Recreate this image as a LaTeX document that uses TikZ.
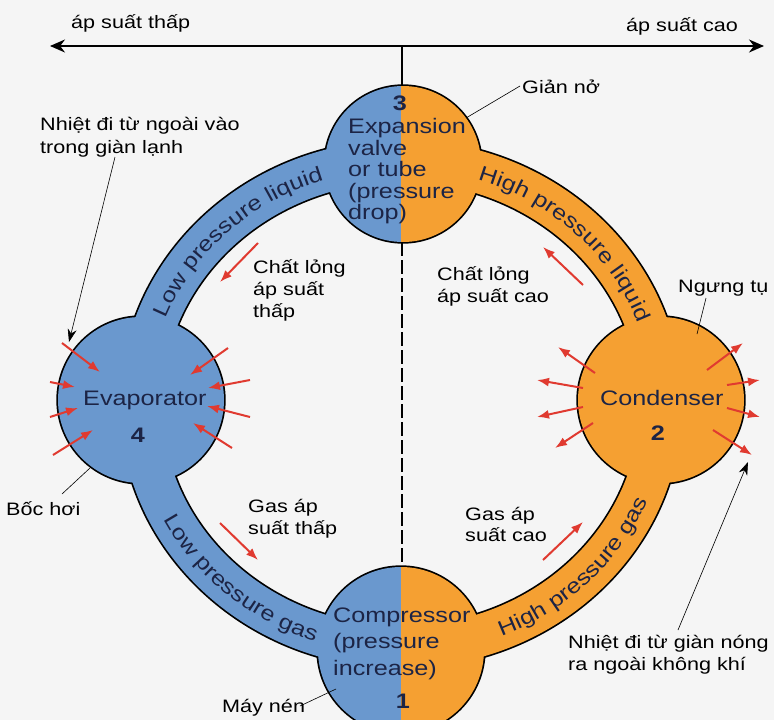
\documentclass[tikz,border=0pt]{standalone}
\usepackage{fontspec}
\setmainfont{Liberation Sans}
\newfontfamily\vf[FakeStretch=1.2]{Liberation Sans}
\usetikzlibrary{arrows.meta,decorations.text}
\definecolor{cblue}{HTML}{6A98CE}
\definecolor{corange}{HTML}{F5A032}
\definecolor{cnavy}{HTML}{1C2445}
\definecolor{cred}{HTML}{E03A30}
\definecolor{cbg}{HTML}{F5F5F5}
\newcommand\bandfont{\vf\fontsize{21}{21}\selectfont\color{cnavy}}
\begin{document}
\begin{tikzpicture}[x=1pt,y=-1pt,
  lbl/.style={font=\vf\fontsize{18}{20}\selectfont, anchor=base west, inner sep=0pt, text=black},
  ntxt/.style={font=\vf\fontsize{21}{22}\selectfont, anchor=base west, inner sep=0pt, text=cnavy},
  num/.style={font=\vf\bfseries\fontsize{21}{22}\selectfont, anchor=base, inner sep=0pt, text=cnavy},
  heat/.style={draw=cred, line width=2pt, -{Latex[length=12pt,width=9pt]}},
  leader/.style={draw=black, line width=0.6pt},
  outline/.style={line width=3.4pt, draw=black},
  bandtext/.style={decorate, decoration={text along path, text align=center, text={|\bandfont|#1}}}
]
\fill[cbg] (0,0) rectangle (774,720);
\useasboundingbox (0,0) rectangle (774,720);

% centres
\coordinate (C) at (401,404);
\coordinate (exp) at (403,164);
\coordinate (cmp) at (401,650);
\coordinate (eva) at (141,400);
\coordinate (con) at (661,400);

% outline of the union
\draw[outline] (exp) circle (78) (cmp) circle (83) (eva) circle (83) (con) circle (83)
  (C) ellipse [x radius=281, y radius=264] (C) ellipse [x radius=239, y radius=222];
\begin{scope}
  \clip (0,0) rectangle (401,720);
  \fill[cblue] (exp) circle (78) (cmp) circle (83) (eva) circle (83);
  \fill[cblue, even odd rule] (C) ellipse [x radius=281, y radius=264] (C) ellipse [x radius=239, y radius=222];
\end{scope}
\begin{scope}
  \clip (401,0) rectangle (774,720);
  \fill[corange] (exp) circle (78) (cmp) circle (83) (con) circle (83);
  \fill[corange, even odd rule] (C) ellipse [x radius=281, y radius=264] (C) ellipse [x radius=239, y radius=222];
\end{scope}

% pressure axis
\coordinate (axL) at (50,46);
\coordinate (axR) at (764,46);
\coordinate (axM) at (402,46);
\coordinate (exptop) at (402,86);
\coordinate (expbot) at (402,242);
\coordinate (cmptop) at (402,567);
\draw[line width=1.8pt, {Stealth[length=15pt,width=13pt]}-{Stealth[length=15pt,width=13pt]}] (axL) -- (axR);
\draw[line width=1.2pt] (axM) -- (exptop);
\draw[line width=1.2pt, dash pattern=on 14pt off 4pt] (expbot) -- (cmptop);

% band labels
\path[bandtext=Low pressure liquid] (C) ++(-168:252.5 and 235.5) arc[start angle=-168, end angle=-99, x radius=252.5, y radius=235.5];
\path[bandtext=High pressure liquid] (C) ++(-80:252.5 and 235.5) arc[start angle=-80, end angle=-12, x radius=252.5, y radius=235.5];
\path[bandtext=Low pressure gas] (C) ++(165:267.5 and 250.5) arc[start angle=165, end angle=97, x radius=267.5, y radius=250.5];
\path[bandtext=High pressure gas] (C) ++(79:267.5 and 250.5) arc[start angle=79, end angle=11, x radius=267.5, y radius=250.5];

% texts in the circles
\node[num] (n3) at (400,110) {3};
\node[ntxt] (e1) at (348,133) {Expansion};
\node[ntxt] (e2) at (348,155) {valve};
\node[ntxt] (e3) at (348,176) {or tube};
\node[ntxt] (e4) at (348,198) {(pressure};
\node[ntxt] (e5) at (348,219) {drop)};
\node[ntxt] (ev) at (83,405) {Evaporator};
\node[num] (n4) at (138,442) {4};
\node[ntxt] (cd) at (600,405) {Condenser};
\node[num] (n2) at (658,440) {2};
\node[ntxt] (c1) at (333,622) {Compressor};
\node[ntxt] (c2) at (333,648) {(pressure};
\node[ntxt] (c3) at (333,675) {increase)};
\node[num] (n1) at (403,708) {1};

% heat arrows, evaporator (in)
\draw[heat] (62,343) -- (100,372);
\draw[heat] (50,382) -- (75,387);
\draw[heat] (50,417) -- (78,408);
\draw[heat] (53,455) -- (93,430);
\draw[heat] (228,348) -- (190,375);
\draw[heat] (250,380) -- (208,388);
\draw[heat] (250,417) -- (207,406);
\draw[heat] (232,448) -- (193,423);
% heat arrows, condenser (out)
\draw[heat] (595,373) -- (558,347);
\draw[heat] (583,388) -- (537,380);
\draw[heat] (583,407) -- (537,417);
\draw[heat] (593,423) -- (555,448);
\draw[heat] (707,370) -- (743,343);
\draw[heat] (727,385) -- (760,380);
\draw[heat] (727,408) -- (760,417);
\draw[heat] (713,430) -- (752,455);
% flow arrows
\draw[heat] (258,243) -- (220,282);
\draw[heat] (583,285) -- (543,247);
\draw[heat] (220,523) -- (258,560);
\draw[heat] (543,560) -- (583,522);

% labels
\node[lbl] (lowp) at (71,28) {áp suất thấp};
\node[lbl] (highp) at (626,31) {áp suất cao};
\node[lbl] (gian) at (522,93) {Giản nở};
\node[lbl] (nh1) at (40,130) {Nhiệt đi từ ngoài vào};
\node[lbl] (nh2) at (40,153) {trong giàn lạnh};
\node[lbl] (cl1) at (253,273) {Chất lỏng};
\node[lbl] (cl2) at (253,295) {áp suất};
\node[lbl] (cl3) at (253,317) {thấp};
\node[lbl] (ch1) at (437,280) {Chất lỏng};
\node[lbl] (ch2) at (437,302) {áp suất cao};
\node[lbl] (gl1) at (248,512) {Gas áp};
\node[lbl] (gl2) at (248,534) {suất thấp};
\node[lbl] (gh1) at (465,520) {Gas áp};
\node[lbl] (gh2) at (465,541) {suất cao};
\node[lbl] (ngung) at (678,292) {Ngưng tụ};
\node[lbl] (boc) at (6,515) {Bốc hơi};
\node[lbl] (may) at (222,712) {Máy nén};
\node[lbl] (nn1) at (568,648) {Nhiệt đi từ giàn nóng};
\node[lbl] (nn2) at (568,670) {ra ngoài không khí};

% leaders
\coordinate (gianA) at (520,86);
\coordinate (gianB) at (466,118);
\draw[leader] (gianA) -- (gianB);
\coordinate (ngA) at (706,298);
\coordinate (ngB) at (697,334);
\draw[leader] (ngA) -- (ngB);
\coordinate (bocA) at (62,494);
\coordinate (bocB) at (90,468);
\draw[leader] (bocA) -- (bocB);
\coordinate (mayA) at (300,706);
\coordinate (mayB) at (336,689);
\draw[leader] (mayA) -- (mayB);
\coordinate (nhA) at (115,157);
\coordinate (nhB) at (69,342);
\draw[leader, -{Stealth[length=13pt,width=9pt]}] (nhA) -- (nhB);
\coordinate (nnA) at (678,630);
\coordinate (nnB) at (748,462);
\draw[leader, -{Stealth[length=13pt,width=9pt]}] (nnA) -- (nnB);
\end{tikzpicture}
\end{document}
